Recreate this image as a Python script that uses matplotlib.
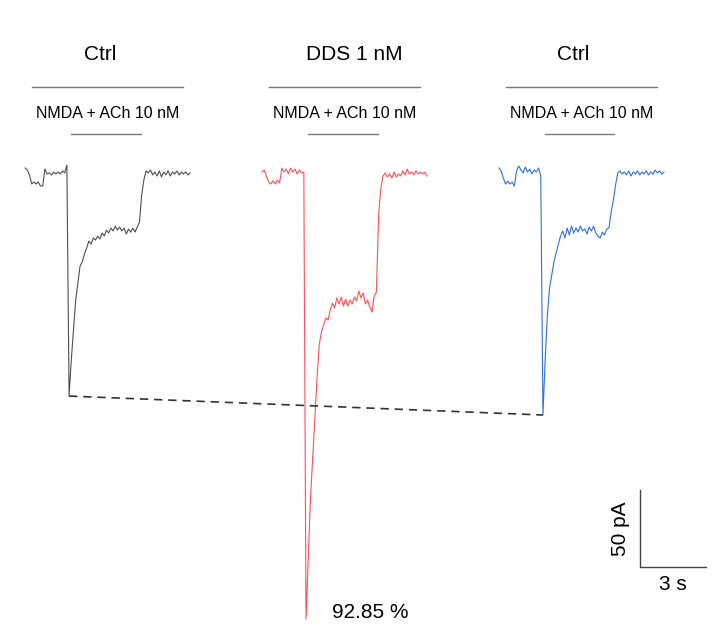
import matplotlib
matplotlib.use("Agg")
import matplotlib.pyplot as plt
import numpy as np

plt.rcParams['font.family'] = ['Liberation Sans', 'DejaVu Sans']

# sampled current traces (pA), dt = 0.1 s
DT = 0.1
ctrl1_pA = [1.3, 0.0, -3.2, -9.1, -7.8, -9.1, -7.8, -10.4, -10.4, 0.6,
            -2.6, -1.9, -3.2, -1.3, -2.6, -1.3, -2.6, -0.6, -1.9, 3.2,
            -146.8, -123.4, -103.9, -84.4, -73.4, -62.3, -59.7, -54.5, -50.6, -46.1,
            -48.1, -44.2, -45.5, -42.9, -44.8, -40.9, -42.9, -39.0, -40.9, -37.7,
            -39.6, -36.4, -39.0, -37.0, -39.6, -37.7, -41.6, -38.3, -40.3, -37.7,
            -40.3, -37.0, -33.8, -16.2, -6.5, -0.6, -1.9, 0.0, -3.2, -1.3,
            -3.9, -0.6, -4.5, -1.3, -3.2, -0.6, -3.9, -1.3, -2.6, -0.6,
            -3.2, -1.3, -2.6, -1.3, -3.2, -1.9]
dds_pA = [-1.3, 0.0, -3.9, -7.8, -9.1, -7.1, -9.1, -6.5, -8.4, 1.3,
          -1.3, 0.6, -2.6, 1.3, -1.3, 0.6, -2.6, 0.0, -1.9, -1.3,
          -291.6, -253.0, -214.0, -188.0, -162.0, -135.0, -113.6, -105.2, -100.6, -96.1,
          -97.4, -90.9, -86.4, -89.6, -83.1, -87.0, -82.5, -88.3, -83.8, -88.3,
          -84.4, -87.0, -82.5, -85.1, -78.6, -83.1, -79.9, -87.0, -84.4, -89.0,
          -92.2, -81.8, -79.2, -29.2, -11.7, -3.9, -1.9, -4.5, -2.6, -5.2,
          -1.3, -4.5, -2.6, -3.9, -0.6, -3.2, 0.6, -2.6, -1.3, -3.2,
          -0.6, -2.6, -1.3, -2.6, -1.3, -3.9]
ctrl2_pA = [1.3, -0.6, -5.2, -9.1, -7.1, -9.1, -7.8, -10.4, -0.6, 2.6,
            0.0, -1.9, 1.9, -1.3, 0.6, -2.6, 0.0, -1.3, 1.3, -3.9,
            -159.1, -123.4, -94.2, -76.6, -68.2, -59.7, -53.9, -48.1, -42.9, -39.6,
            -44.2, -37.7, -42.2, -36.4, -40.9, -37.7, -40.3, -36.4, -39.6, -38.3,
            -41.6, -37.0, -39.6, -36.4, -40.9, -42.9, -44.2, -40.3, -42.2, -38.3,
            -37.7, -27.3, -19.5, -9.7, -1.9, -0.6, -2.6, -1.3, -3.2, -0.6,
            -3.9, -1.3, -2.6, -0.6, -3.2, -1.3, -2.6, -0.6, -3.2, -1.3,
            -2.6, 0.0, -1.9, -0.6, -2.6, -1.3]

titles = ['Ctrl', 'DDS 1 nM', 'Ctrl']
drug_label = 'NMDA + ACh 10 nM'
trace_start_s = [1.14, 11.91, 22.68]
title_x_s = [3.41, 4.18, 3.36]
long_bar_s = (0.33, 7.2)
app_bar_s = (2.1, 5.25)
colors = ['#505050', '#ff4f55', '#2f6fe0']
percent_label = '92.85 %'

# layout: 22 px per s, 1.54 px per pA, 0 pA at pixel row 170
PX_S, PX_PA, Y0 = 22.0, 1.54, 170.0
W, H = 720, 624


def ypx(p):
    return (Y0 - p) / PX_PA


fig = plt.figure(figsize=(W / 100, H / 100), dpi=100)
ax = fig.add_axes([0, 0, 1, 1])
ax.set_xlim(0, W / PX_S)
ax.set_ylim(ypx(H), ypx(0))
ax.axis('off')

traces = [ctrl1_pA, dds_pA, ctrl2_pA]
mins = []
for vals, t0, col, title, tx in zip(traces, trace_start_s, colors, titles, title_x_s):
    t = t0 + np.arange(len(vals)) * DT
    ax.plot(t, vals, color=col, lw=0.8)
    k = int(np.argmin(vals))
    mins.append((t[k], vals[k]))
    ax.text(t0 + tx, ypx(55), title, ha='center', va='center', fontsize=15)
    ax.plot([t0 + long_bar_s[0], t0 + long_bar_s[1]], [ypx(87)] * 2,
            color='#7a7a7a', lw=1.0)
    ax.text(t0 + sum(long_bar_s) / 2, ypx(113), drug_label, ha='center',
            va='center', fontsize=11.5)
    ax.plot([t0 + app_bar_s[0], t0 + app_bar_s[1]], [ypx(134)] * 2,
            color='#7a7a7a', lw=1.0)

# dashed line joining the control peaks
ax.plot([mins[0][0], mins[2][0]], [mins[0][1], mins[2][1]], color='#333333',
        lw=1.2, ls=(0, (5, 3.5)))

ax.text(mins[1][0] + 64 / PX_S, ypx(612), percent_label, ha='center',
        va='center', fontsize=15)

# scale bar
sx, sy = 640 / PX_S, ypx(567)
ax.plot([sx, sx, sx + 3], [sy + 50, sy, sy], color='#444444', lw=1.0)
ax.text(sx - 19 / PX_S, sy + 25, '50 pA', rotation=90, ha='center',
        va='center', fontsize=15)
ax.text(sx + 1.5, ypx(585), '3 s', ha='center', va='center', fontsize=15)

fig.savefig('out.png', dpi=100)
